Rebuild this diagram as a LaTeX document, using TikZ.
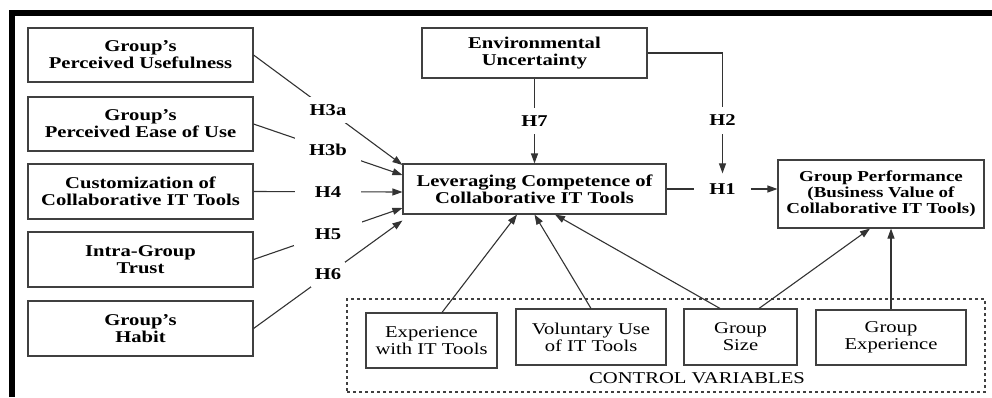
\documentclass[tikz,border=0pt]{standalone}
\usepackage{fontspec}
\setmainfont{Liberation Serif}[FakeStretch=1.25]
\usetikzlibrary{arrows.meta,calc}
\begin{document}
\begin{tikzpicture}[x=1pt,y=-1pt,
  txt/.style={font=\fontsize{16.5}{17}\selectfont},
  btxt/.style={font=\fontsize{16.5}{17}\selectfont\bfseries},
  box/.style={draw=black!75, line width=1.1pt, align=center, inner sep=0pt, btxt},
  cbox/.style={draw=black!75, line width=1.1pt, align=center, inner sep=0pt, txt},
  hlab/.style={fill=white, inner ysep=7pt, btxt},
  conn/.style={draw=black!80, line width=1.1pt},
  arr/.style={conn, -{Triangle[length=10pt,width=7pt]}},
]
\useasboundingbox (0,0) rectangle (992,397);
% frame
\draw[line width=6pt] (12,397) -- (12,13) -- (992,13);

% left column
\node[box, minimum width=225pt, minimum height=54pt] (b1) at (140.5,55) {Group’s\\Perceived Usefulness};
\node[box, minimum width=225pt, minimum height=54pt] (b2) at (140.5,124) {Group’s\\Perceived Ease of Use};
\node[box, minimum width=225pt, minimum height=55pt] (b3) at (140.5,191.5) {Customization of\\Collaborative IT Tools};
\node[box, minimum width=225pt, minimum height=55pt] (b4) at (140.5,259.5) {Intra-Group\\Trust};
\node[box, minimum width=225pt, minimum height=55pt] (b5) at (140.5,328.5) {Group’s\\Habit};

% centre
\node[box, minimum width=225pt, minimum height=50pt] (env) at (534.5,53) {Environmental\\Uncertainty};
\node[box, minimum width=263pt, minimum height=50pt] (c) at (534.5,189) {Leveraging Competence of\\Collaborative IT Tools};
\node[box, font=\fontsize{15.2}{16}\selectfont\bfseries, minimum width=206pt, minimum height=68pt] (gp) at (881,194) {Group Performance\\(Business Value of\\Collaborative IT Tools)};

% control variables
\node[draw=black!75, dashed, line width=1.1pt, minimum width=638pt, minimum height=93pt] (cv) at (666,345.5) {};
\node[cbox, minimum width=131pt, minimum height=55pt] (exp) at (431.5,340.5) {Experience\\with IT Tools};
\node[cbox, minimum width=150pt, minimum height=56pt] (vol) at (591,337) {Voluntary Use\\of IT Tools};
\node[cbox, minimum width=113pt, minimum height=56pt] (size) at (740.5,337) {Group\\Size};
\node[cbox, minimum width=150pt, minimum height=55pt] (gexp) at (891,337.5) {Group\\Experience};
\node[txt, inner sep=0pt] (cvl) at (697,378) {CONTROL VARIABLES};

% hypotheses from left
\draw[arr] (b1.east) -- node[hlab, inner xsep=4pt]{H3a} ($(c.west)+(0,-24)$);
\draw[arr] (b2.east) -- node[hlab, inner xsep=14pt]{H3b} ($(c.west)+(0,-14)$);
\draw[arr] (b3.east) -- node[hlab, inner xsep=20pt]{H4} ($(c.west)+(0,3)$);
\draw[arr] (b4.east) -- node[hlab, inner xsep=21pt]{H5} ($(c.west)+(0,19)$);
\draw[arr] (b5.east) -- node[hlab, inner xsep=4pt]{H6} ($(c.south west)+(0,6)$);

% H7, H1, H2
\draw[arr] (env.south) -- node[hlab, inner ysep=8pt]{H7} (c.north);
\node[hlab, inner xsep=15pt, inner ysep=10pt] (h1) at (722.5,189) {H1};
\draw[conn] (c.east) -- (h1.west);
\draw[arr] (h1.east) -- (h1.east -| gp.west);
\draw[arr] (env.east) -| node[hlab, pos=0.78, inner ysep=8pt]{H2} (h1.north);

% control arrows
\draw[arr] ($(exp.north)+(10.5,0)$) -- ($(c.south)+(-17.5,0)$);
\draw[arr] (vol.north) -- (c.south);
\draw[arr] ($(size.north)+(-20.5,0)$) -- ($(c.south)+(20.5,0)$);
\draw[arr] ($(size.north)+(18.5,0)$) -- ($(gp.south)+(-11,0)$);
\draw[arr] (gexp.north) -- (gexp.north |- gp.south);
\end{tikzpicture}
\end{document}
